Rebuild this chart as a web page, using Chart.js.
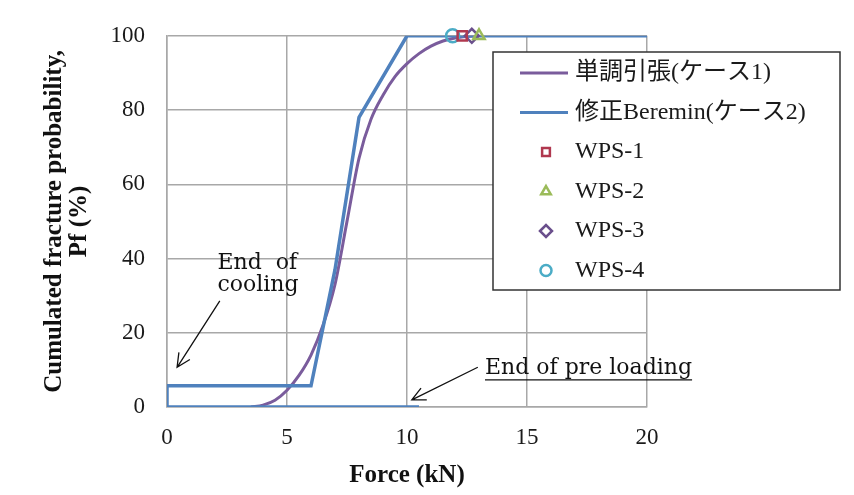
<!DOCTYPE html>
<html>
<head>
<meta charset="utf-8">
<script src="https://cdn.jsdelivr.net/npm/chart.js@4.4.1/dist/chart.umd.min.js"></script>
<style>
  html, body { margin: 0; padding: 0; background: #fff; }
</style>
</head>
<body>
<canvas id="chart" width="854" height="495"></canvas>
<script>
// Cumulated fracture probability vs force

// dados
const forceMono = [3.5, 4.0, 4.5, 5.0, 5.5, 6.0, 6.5, 7.0, 7.5, 8.0, 8.5, 9.0, 9.5, 10.0, 10.5, 11.0, 11.5, 12.0, 12.5, 13.0];
const pfMono = [0, 0.5, 1.8, 4.5, 8.5, 14, 22, 33, 50, 67, 77.5, 84, 89, 92.5, 95.2, 97.2, 98.6, 99.4, 99.8, 100];

const forceBeremin = [10.5, 0, 0, 6.0, 7.0, 8.0, 10.0, 20.0];
const pfBeremin = [0, 0, 5.7, 5.7, 37, 78, 100, 100];

const forceWps1 = [12.3];
const pfWps1 = [100];
const forceWps2 = [13.0];
const pfWps2 = [100];
const forceWps3 = [12.7];
const pfWps3 = [100];
const forceWps4 = [11.9];
const pfWps4 = [100];

const seriesNames = ["単調引張(ケース1)", "修正Beremin(ケース2)", "WPS-1", "WPS-2", "WPS-3", "WPS-4"];
const xTicks = [0, 5, 10, 15, 20];
const yTicks = [0, 20, 40, 60, 80, 100];

const serif = "'Liberation Serif', 'Times New Roman', 'Noto Sans CJK JP', serif";

function toPoints(xs, ys) {
    return xs.map((x, i) => ({ x: x, y: ys[i] }));
}

function markerSet(name, xs, ys, style, color) {
    return {
        label: name,
        data: toPoints(xs, ys),
        showLine: false,
        pointStyle: style,
        pointRadius: style === "rectRot" ? 7 : 6.5,
        pointBorderWidth: 2.5,
        borderColor: color,
        backgroundColor: "rgba(255,255,255,0)",
        pointBackgroundColor: "rgba(255,255,255,0)",
        clip: false,
        order: 0
    };
}

// fundo branco
const whiteBg = {
    id: "whiteBg",
    beforeDraw(chart) {
        const ctx = chart.ctx;
        ctx.save();
        ctx.fillStyle = "#fff";
        ctx.fillRect(0, 0, chart.width, chart.height);
        ctx.restore();
    }
};

function arrow(ctx, x1, y1, x2, y2) {
    const a = Math.atan2(y2 - y1, x2 - x1);
    const len = 15, spread = 0.45;
    ctx.beginPath();
    ctx.moveTo(x1, y1);
    ctx.lineTo(x2, y2);
    ctx.moveTo(x2 - len * Math.cos(a - spread), y2 - len * Math.sin(a - spread));
    ctx.lineTo(x2, y2);
    ctx.lineTo(x2 - len * Math.cos(a + spread), y2 - len * Math.sin(a + spread));
    ctx.stroke();
}

// textos e setas
const notes = {
    id: "notes",
    afterDraw(chart) {
        const ctx = chart.ctx;
        const sx = chart.scales.x, sy = chart.scales.y;
        const px = v => sx.getPixelForValue(v);
        const py = v => sy.getPixelForValue(v);
        ctx.save();
        ctx.fillStyle = "#111";
        ctx.strokeStyle = "#111";
        ctx.lineWidth = 1.3;
        ctx.font = "22px 'DejaVu Serif', serif";
        ctx.textBaseline = "alphabetic";

        ctx.fillText("End  of", px(2.1), py(37.2));
        ctx.fillText("cooling", px(2.1), py(31.3));
        arrow(ctx, px(2.2), py(28.6), px(0.42), py(10.7));

        const t = "End of pre loading";
        const tx = px(13.25), ty = py(8.8);
        ctx.fillText(t, tx, ty);
        const w = ctx.measureText(t).width;
        ctx.beginPath();
        ctx.moveTo(tx, ty + 5.5);
        ctx.lineTo(tx + w, ty + 5.5);
        ctx.stroke();
        arrow(ctx, px(12.95), py(10.7), px(10.2), py(1.9));
        ctx.restore();
    }
};

// legenda em caixa sobre o gráfico
const boxLegend = {
    id: "boxLegend",
    afterDraw(chart) {
        const ctx = chart.ctx;
        const L = 493, T = 52, R = 840, B = 290;
        ctx.save();
        ctx.fillStyle = "#fff";
        ctx.fillRect(L, T, R - L, B - T);
        ctx.strokeStyle = "#333";
        ctx.lineWidth = 1.5;
        ctx.strokeRect(L, T, R - L, B - T);
        ctx.font = "24px " + serif;
        ctx.textBaseline = "middle";
        chart.data.datasets.forEach((ds, i) => {
            const y = 73 + i * 39.5;
            if (ds.showLine) {
                ctx.strokeStyle = ds.borderColor;
                ctx.lineWidth = 3;
                ctx.beginPath();
                ctx.moveTo(520, y);
                ctx.lineTo(568, y);
                ctx.stroke();
            } else {
                ctx.strokeStyle = ds.borderColor;
                ctx.fillStyle = "rgba(255,255,255,0)";
                ctx.lineWidth = 2.5;
                Chart.helpers.drawPoint(ctx, {
                    pointStyle: ds.pointStyle,
                    rotation: 0,
                    radius: ds.pointStyle === "rectRot" ? 6 : 5.5,
                    borderWidth: 2.5
                }, 546, y);
            }
            ctx.fillStyle = "#1a1a1a";
            ctx.fillText(ds.label, 575, y);
        });
        ctx.restore();
    }
};

const ctx = document.getElementById("chart").getContext("2d");

new Chart(ctx, {
    type: "scatter",
    data: {
        datasets: [
            {
                label: seriesNames[0],
                data: toPoints(forceMono, pfMono),
                showLine: true,
                borderColor: "#7a5c9c",
                borderWidth: 3,
                pointRadius: 0,
                cubicInterpolationMode: "monotone",
                order: 2
            },
            {
                label: seriesNames[1],
                data: toPoints(forceBeremin, pfBeremin),
                showLine: true,
                borderColor: "#4f81bd",
                borderWidth: 3.5,
                pointRadius: 0,
                tension: 0,
                order: 1
            },
            markerSet(seriesNames[2], forceWps1, pfWps1, "rect", "#b0384f"),
            markerSet(seriesNames[3], forceWps2, pfWps2, "triangle", "#9bbb59"),
            markerSet(seriesNames[4], forceWps3, pfWps3, "rectRot", "#6a4f8c"),
            markerSet(seriesNames[5], forceWps4, pfWps4, "circle", "#4bacc6")
        ]
    },
    options: {
        responsive: false,
        animation: false,
        devicePixelRatio: 1,
        layout: { padding: { top: 33, right: 207, left: 0, bottom: 0 } },
        plugins: {
            legend: { display: false },
            tooltip: { enabled: false }
        },
        scales: {
            x: {
                type: "linear",
                min: 0,
                max: 20,
                afterBuildTicks: s => { s.ticks = xTicks.map(v => ({ value: v })); },
                afterFit: s => { s.height = 88; },
                grid: { color: "#a8a8a8", lineWidth: 1.5, drawTicks: false },
                border: { color: "#a8a8a8", width: 1.5 },
                ticks: { padding: 17, color: "#1a1a1a", font: { family: serif, size: 23 } },
                title: {
                    display: true,
                    text: "Force (kN)",
                    color: "#111",
                    font: { family: serif, size: 25, weight: "bold", lineHeight: "26px" },
                    padding: { top: 0, bottom: 6 }
                }
            },
            y: {
                type: "linear",
                min: 0,
                max: 100,
                afterBuildTicks: s => { s.ticks = yTicks.map(v => ({ value: v })); },
                afterFit: s => { s.width = 167; },
                grid: { color: "#a8a8a8", lineWidth: 1.5, drawTicks: false },
                border: { color: "#a8a8a8", width: 1.5 },
                ticks: { padding: 22, color: "#1a1a1a", font: { family: serif, size: 23 } },
                title: {
                    display: true,
                    text: ["Cumulated fracture probability,", "Pf (%)"],
                    color: "#111",
                    font: { family: serif, size: 25, weight: "bold", lineHeight: "25px" },
                    padding: { top: 42, bottom: 0 }
                }
            }
        }
    },
    plugins: [whiteBg, notes, boxLegend]
});
</script>
</body>
</html>
